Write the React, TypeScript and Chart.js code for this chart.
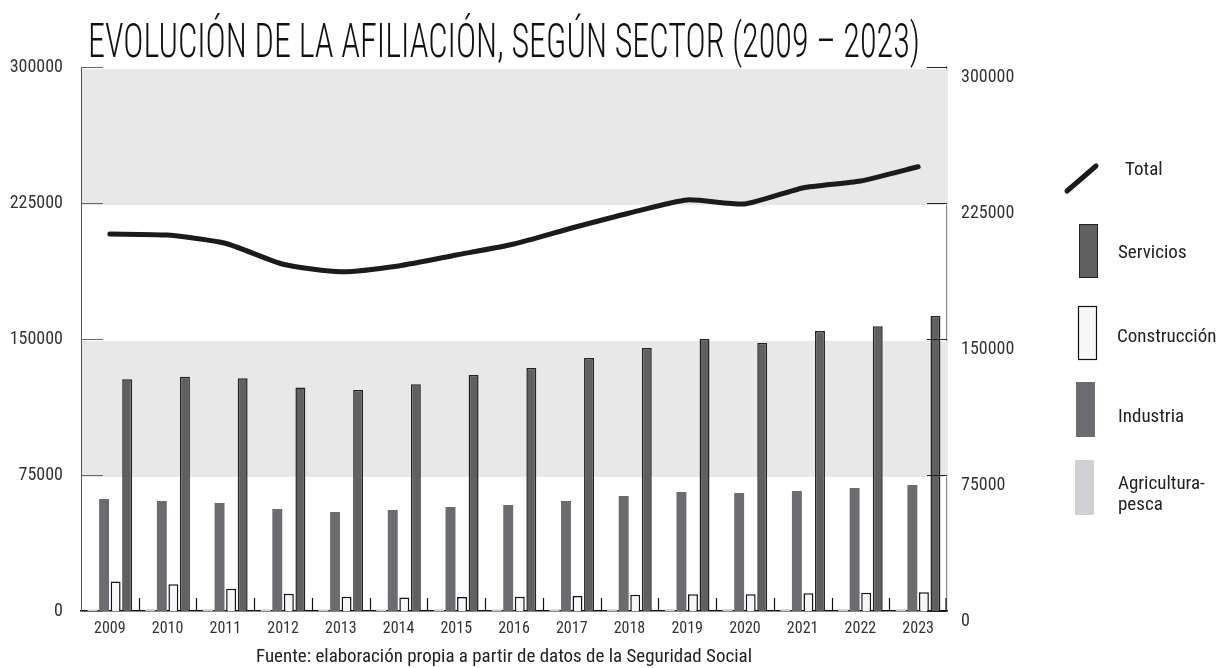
import { useEffect, useRef } from "react";
import { Chart, registerables } from "chart.js";

Chart.register(...registerables);

const years = ["2009", "2010", "2011", "2012", "2013", "2014", "2015", "2016", "2017", "2018", "2019", "2020", "2021", "2022", "2023"];
const agricultura = [900, 1100, 1000, 1000, 900, 900, 1000, 1000, 1000, 1100, 1100, 1100, 1100, 1100, 1100];
const industria = [61800, 60700, 59600, 56300, 54600, 55700, 57300, 58500, 60700, 63400, 65600, 65100, 66200, 67800, 69500];
const construccion = [16200, 14700, 12300, 9500, 7900, 7400, 7700, 7800, 8300, 9000, 9200, 9200, 9800, 10100, 10300];
const servicios = [127800, 129200, 128300, 123200, 121900, 125000, 130200, 134000, 139500, 145000, 150000, 147800, 154400, 157000, 162700];
const total = [207900, 207300, 202800, 191200, 187100, 190300, 196300, 202400, 211200, 219500, 226700, 224500, 233300, 237100, 245000];
const yTicks = [0, 75000, 150000, 225000, 300000];
const shadedBands = [
  [225000, 300000],
  [75000, 150000],
];
const titleText = "EVOLUCIÓN DE LA AFILIACIÓN, SEGÚN SECTOR (2009 – 2023)";
const sourceText = "Fuente: elaboración propia a partir de datos de la Seguridad Social";

const NARROW = '"Liberation Sans Narrow", "Roboto Condensed", "DejaVu Sans Condensed", Roboto, sans-serif';

const C_AGRI = "#d0d1d3";
const C_IND = "#6b6c70";
const C_CONS = "#f7f7f7";
const C_SERV = "#606062";
const C_TOTAL = "#1b1b1b";

const decorPlugin = {
  id: "decor",
  beforeDraw(chart: any) {
    const { ctx, width, height } = chart;
    ctx.save();
    ctx.fillStyle = "#ffffff";
    ctx.fillRect(0, 0, width, height);
    ctx.restore();
  },
  beforeDatasetsDraw(chart: any) {
    const { ctx, chartArea } = chart;
    const y = chart.scales.y;
    ctx.save();
    ctx.fillStyle = "#e8e8e8";
    shadedBands.forEach(([lo, hi]) => {
      const yt = y.getPixelForValue(hi);
      const yb = y.getPixelForValue(lo);
      ctx.fillRect(chartArea.left + 1, yt + 2, chartArea.right - chartArea.left - 1, yb - yt);
    });
    ctx.restore();
  },
  afterDraw(chart: any) {
    const { ctx, chartArea } = chart;
    const y = chart.scales.y;
    const x = chart.scales.x;
    ctx.save();
    // y tick marks (inward)
    yTicks.forEach((v) => {
      const py = Math.round(y.getPixelForValue(v)) + 0.5;
      ctx.strokeStyle = "#666";
      ctx.lineWidth = 1;
      ctx.beginPath();
      ctx.moveTo(chartArea.left, py);
      ctx.lineTo(chartArea.left + 22, py);
      ctx.stroke();
      ctx.strokeStyle = "#222";
      ctx.beginPath();
      ctx.moveTo(chartArea.right - 20, py);
      ctx.lineTo(chartArea.right, py);
      ctx.stroke();
    });
    // category boundary ticks (upward)
    const n = years.length;
    ctx.strokeStyle = "#111";
    ctx.lineWidth = 1.2;
    for (let i = 1; i <= n; i++) {
      const px = i < n ? (x.getPixelForValue(i - 1) + x.getPixelForValue(i)) / 2 : chartArea.right - 1;
      const xx = i < n ? Math.round(px) + 0.5 : px;
      ctx.beginPath();
      ctx.moveTo(xx, chartArea.bottom);
      ctx.lineTo(xx, chartArea.bottom - 13);
      ctx.stroke();
    }
    // title
    ctx.fillStyle = "#111";
    ctx.textBaseline = "alphabetic";
    ctx.textAlign = "left";
    ctx.font = `300 48px ${NARROW}`;
    ctx.fillText(titleText, 88, 57, 832);
    // source
    ctx.font = `19px ${NARROW}`;
    ctx.fillStyle = "#222";
    ctx.textAlign = "center";
    ctx.textBaseline = "middle";
    ctx.fillText(sourceText, 504, 657, 496);
    // legend
    ctx.textAlign = "left";
    ctx.font = `19px ${NARROW}`;
    ctx.strokeStyle = C_TOTAL;
    ctx.lineWidth = 5;
    ctx.lineCap = "round";
    ctx.beginPath();
    ctx.moveTo(1067, 191);
    ctx.lineTo(1096, 166);
    ctx.stroke();
    ctx.lineCap = "butt";
    ctx.fillStyle = "#222";
    ctx.fillText("Total", 1125, 170);

    ctx.fillStyle = C_SERV;
    ctx.fillRect(1079, 224, 19, 54);
    ctx.strokeStyle = "#222";
    ctx.lineWidth = 1;
    ctx.strokeRect(1079.5, 224.5, 18, 53);
    ctx.fillStyle = "#222";
    ctx.fillText("Servicios", 1118, 253);

    ctx.fillStyle = C_CONS;
    ctx.fillRect(1078, 306, 19, 54);
    ctx.strokeStyle = "#111";
    ctx.lineWidth = 1.2;
    ctx.strokeRect(1078.5, 306.5, 18, 53);
    ctx.fillStyle = "#222";
    ctx.fillText("Construcción", 1117, 337);

    ctx.fillStyle = C_IND;
    ctx.fillRect(1076, 382, 19, 55);
    ctx.fillStyle = "#222";
    ctx.fillText("Industria", 1118, 417);

    ctx.fillStyle = C_AGRI;
    ctx.fillRect(1075, 460, 19, 55);
    ctx.fillStyle = "#222";
    ctx.fillText("Agricultura-", 1118, 484);
    ctx.fillText("pesca", 1118, 505);
    ctx.restore();
  },
};

export default function App() {
  const ref = useRef<HTMLCanvasElement | null>(null);

  useEffect(() => {
    if (!ref.current) return;
    const barCommon = { categoryPercentage: 0.8, barPercentage: 0.86, order: 1, yAxisID: "y" };
    const chart = new Chart(ref.current, {
      type: "bar",
      data: {
        labels: years,
        datasets: [
          { type: "line", label: "Total", data: total, borderColor: C_TOTAL, borderWidth: 5, pointRadius: 0, tension: 0.2, borderCapStyle: "round", borderJoinStyle: "round", fill: false, order: 0, yAxisID: "y" } as any,
          { label: "Agricultura-pesca", data: agricultura, backgroundColor: C_AGRI, borderWidth: 0, ...barCommon },
          { label: "Industria", data: industria, backgroundColor: C_IND, borderWidth: 0, ...barCommon },
          { label: "Construcción", data: construccion, backgroundColor: C_CONS, borderColor: "#111", borderWidth: 1.5, ...barCommon },
          { label: "Servicios", data: servicios, backgroundColor: C_SERV, borderColor: "#222", borderWidth: 1.5, ...barCommon },
        ],
      },
      options: {
        responsive: false,
        animation: false,
        layout: { padding: { top: 67, left: 0, right: 0, bottom: 0 } },
        plugins: { legend: { display: false }, tooltip: { enabled: false }, title: { display: false } },
        scales: {
          x: {
            offset: true,
            grid: { display: false, drawTicks: false },
            border: { display: true, color: "#111", width: 1.5 },
            ticks: { color: "#333", font: { family: NARROW, size: 16 }, padding: 8, maxRotation: 0, autoSkip: false },
            afterFit: (s: any) => { s.height = 57; },
          },
          y: {
            position: "left",
            min: 0,
            max: 300000,
            afterBuildTicks: (s: any) => { s.ticks = yTicks.map((v) => ({ value: v })); },
            grid: { display: false, drawTicks: false },
            border: { display: true, color: "#555", width: 1 },
            ticks: { color: "#333", font: { family: NARROW, size: 18 }, padding: 18, callback: (v: any) => String(v) },
            afterFit: (s: any) => { s.width = 81; },
          },
          y2: {
            position: "right",
            min: 0,
            max: 300000,
            afterBuildTicks: (s: any) => { s.ticks = yTicks.map((v) => ({ value: v })); },
            grid: { display: false, drawTicks: false },
            border: { display: true, color: "#888", width: 1.2 },
            ticks: { color: "#333", font: { family: NARROW, size: 18 }, padding: 14, labelOffset: 10, callback: (v: any) => String(v) },
            afterFit: (s: any) => { s.width = 272; },
          },
        },
      } as any,
      plugins: [decorPlugin],
    });
    return () => chart.destroy();
  }, []);

  return (
    <div style={{ position: "fixed", left: 0, top: 0, width: 1219, height: 668, background: "#fff" }}>
      <canvas ref={ref} width={1219} height={668} style={{ width: 1219, height: 668, display: "block" }} />
    </div>
  );
}
